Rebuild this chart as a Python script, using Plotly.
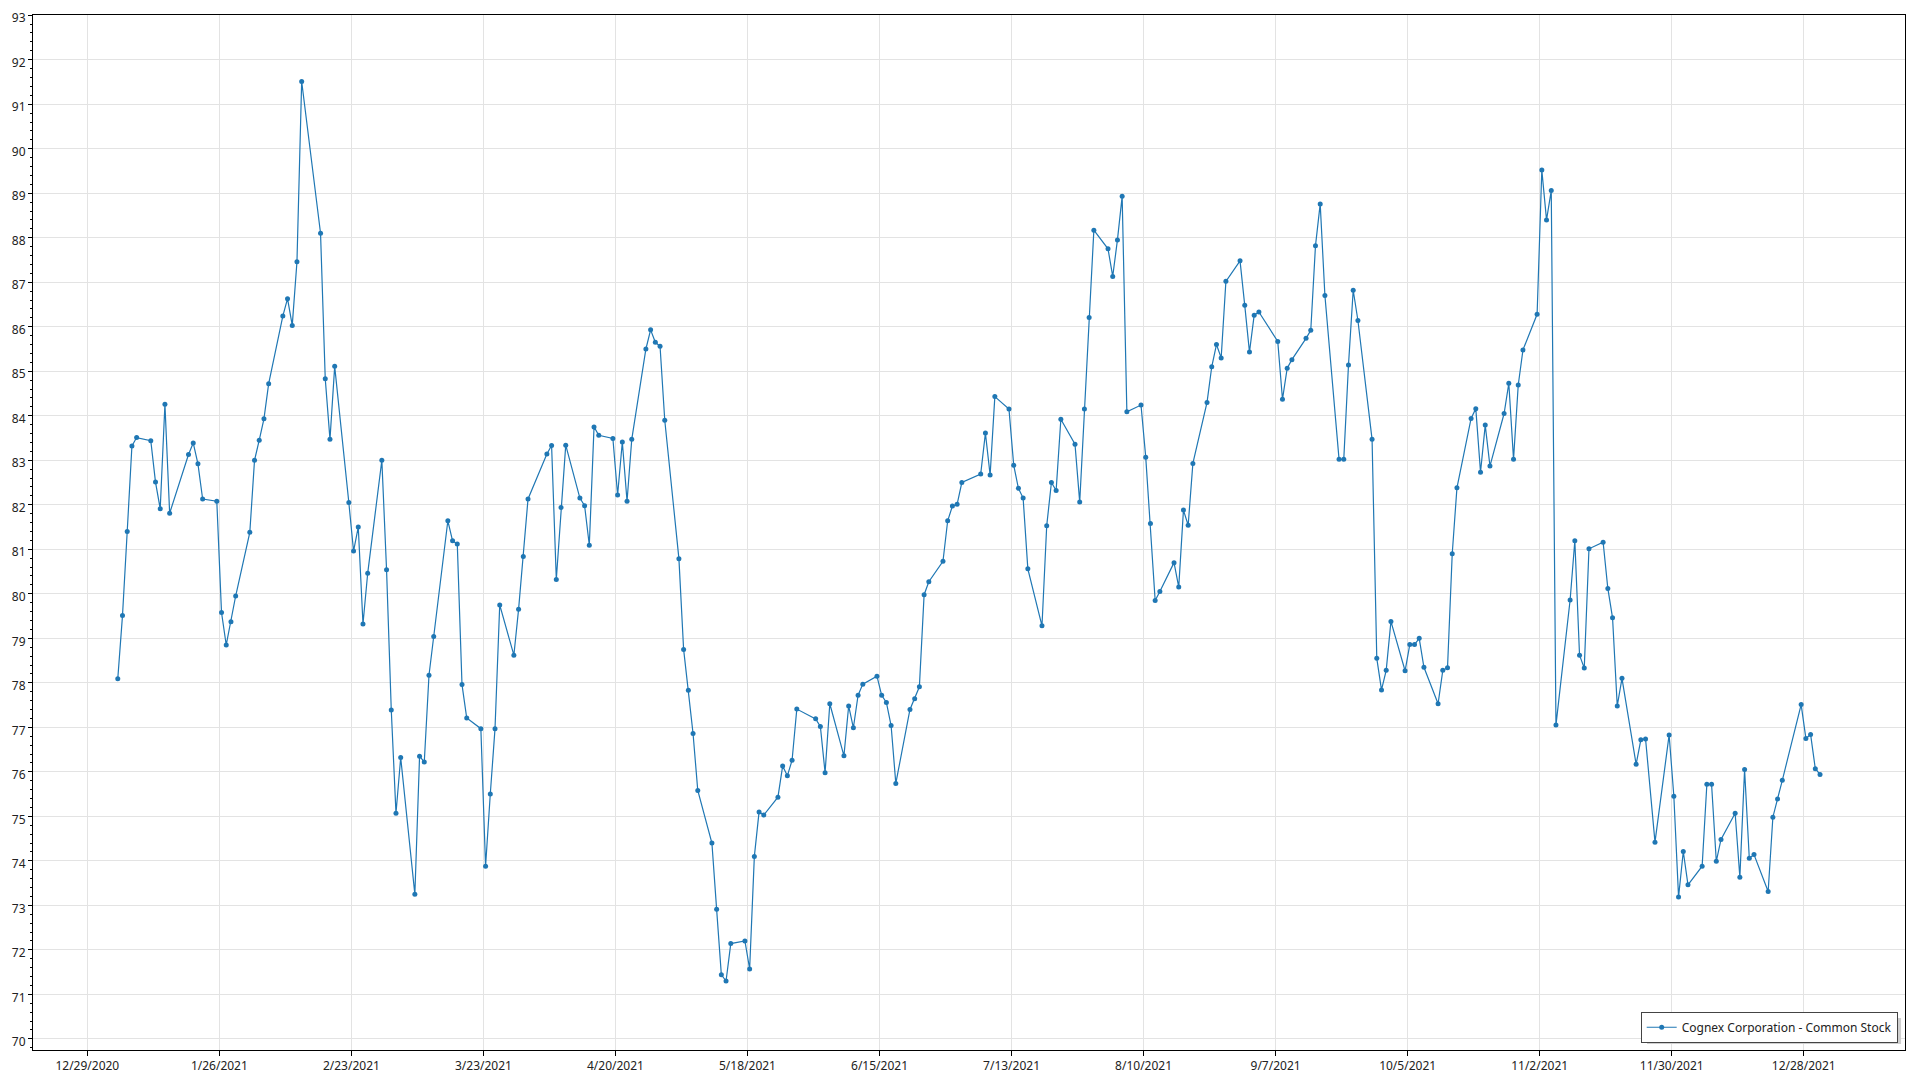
import pandas as pd
import plotly.graph_objects as go

# --- data -------------------------------------------------------------
dates = [
    "2021-01-04", "2021-01-05", "2021-01-06", "2021-01-07", "2021-01-08",
    "2021-01-11", "2021-01-12", "2021-01-13", "2021-01-14", "2021-01-15",
    "2021-01-19", "2021-01-20", "2021-01-21", "2021-01-22",
    "2021-01-25", "2021-01-26", "2021-01-27", "2021-01-28", "2021-01-29",
    "2021-02-01", "2021-02-02", "2021-02-03", "2021-02-04", "2021-02-05",
    "2021-02-08", "2021-02-09", "2021-02-10", "2021-02-11", "2021-02-12",
    "2021-02-16", "2021-02-17", "2021-02-18", "2021-02-19",
    "2021-02-22", "2021-02-23", "2021-02-24", "2021-02-25", "2021-02-26",
    "2021-03-01", "2021-03-02", "2021-03-03", "2021-03-04", "2021-03-05",
    "2021-03-08", "2021-03-09", "2021-03-10", "2021-03-11", "2021-03-12",
    "2021-03-15", "2021-03-16", "2021-03-17", "2021-03-18", "2021-03-19",
    "2021-03-22", "2021-03-23", "2021-03-24", "2021-03-25", "2021-03-26",
    "2021-03-29", "2021-03-30", "2021-03-31", "2021-04-01",
    "2021-04-05", "2021-04-06", "2021-04-07", "2021-04-08", "2021-04-09",
    "2021-04-12", "2021-04-13", "2021-04-14", "2021-04-15", "2021-04-16",
    "2021-04-19", "2021-04-20", "2021-04-21", "2021-04-22", "2021-04-23",
    "2021-04-26", "2021-04-27", "2021-04-28", "2021-04-29", "2021-04-30",
    "2021-05-03", "2021-05-04", "2021-05-05", "2021-05-06", "2021-05-07",
    "2021-05-10", "2021-05-11", "2021-05-12", "2021-05-13", "2021-05-14",
    "2021-05-17", "2021-05-18", "2021-05-19", "2021-05-20", "2021-05-21",
    "2021-05-24", "2021-05-25", "2021-05-26", "2021-05-27", "2021-05-28",
    "2021-06-01", "2021-06-02", "2021-06-03", "2021-06-04",
    "2021-06-07", "2021-06-08", "2021-06-09", "2021-06-10", "2021-06-11",
    "2021-06-14", "2021-06-15", "2021-06-16", "2021-06-17", "2021-06-18",
    "2021-06-21", "2021-06-22", "2021-06-23", "2021-06-24", "2021-06-25",
    "2021-06-28", "2021-06-29", "2021-06-30", "2021-07-01", "2021-07-02",
    "2021-07-06", "2021-07-07", "2021-07-08", "2021-07-09",
    "2021-07-12", "2021-07-13", "2021-07-14", "2021-07-15", "2021-07-16",
    "2021-07-19", "2021-07-20", "2021-07-21", "2021-07-22", "2021-07-23",
    "2021-07-26", "2021-07-27", "2021-07-28", "2021-07-29", "2021-07-30",
    "2021-08-02", "2021-08-03", "2021-08-04", "2021-08-05", "2021-08-06",
    "2021-08-09", "2021-08-10", "2021-08-11", "2021-08-12", "2021-08-13",
    "2021-08-16", "2021-08-17", "2021-08-18", "2021-08-19", "2021-08-20",
    "2021-08-23", "2021-08-24", "2021-08-25", "2021-08-26", "2021-08-27",
    "2021-08-30", "2021-08-31", "2021-09-01", "2021-09-02", "2021-09-03",
    "2021-09-07", "2021-09-08", "2021-09-09", "2021-09-10",
    "2021-09-13", "2021-09-14", "2021-09-15", "2021-09-16", "2021-09-17",
    "2021-09-20", "2021-09-21", "2021-09-22", "2021-09-23", "2021-09-24",
    "2021-09-27", "2021-09-28", "2021-09-29", "2021-09-30", "2021-10-01",
    "2021-10-04", "2021-10-05", "2021-10-06", "2021-10-07", "2021-10-08",
    "2021-10-11", "2021-10-12", "2021-10-13", "2021-10-14", "2021-10-15",
    "2021-10-18", "2021-10-19", "2021-10-20", "2021-10-21", "2021-10-22",
    "2021-10-25", "2021-10-26", "2021-10-27", "2021-10-28", "2021-10-29",
    "2021-11-01", "2021-11-02", "2021-11-03", "2021-11-04", "2021-11-05",
    "2021-11-08", "2021-11-09", "2021-11-10", "2021-11-11", "2021-11-12",
    "2021-11-15", "2021-11-16", "2021-11-17", "2021-11-18", "2021-11-19",
    "2021-11-22", "2021-11-23", "2021-11-24", "2021-11-26",
    "2021-11-29", "2021-11-30", "2021-12-01", "2021-12-02", "2021-12-03",
    "2021-12-06", "2021-12-07", "2021-12-08", "2021-12-09", "2021-12-10",
    "2021-12-13", "2021-12-14", "2021-12-15", "2021-12-16", "2021-12-17",
    "2021-12-20", "2021-12-21", "2021-12-22", "2021-12-23",
    "2021-12-27", "2021-12-28", "2021-12-29", "2021-12-30", "2021-12-31",
]

prices = [
    78.09, 79.51, 81.40, 83.32, 83.51,
    83.44, 82.51, 81.91, 84.26, 81.81,
    83.13, 83.39, 82.92, 82.13,
    82.08, 79.58, 78.85, 79.37, 79.95,
    81.38, 83.00, 83.45, 83.93, 84.72,
    86.24, 86.63, 86.03, 87.46, 91.51,
    88.10, 84.83, 83.47, 85.11,
    82.05, 80.96, 81.50, 79.32, 80.46,
    83.00, 80.54, 77.39, 75.07, 76.32,
    73.25, 76.35, 76.22, 78.17, 79.04,
    81.64, 81.19, 81.12, 77.96, 77.21,
    76.97, 73.88, 75.50, 76.97, 79.75,
    78.62, 79.65, 80.84, 82.13,
    83.14, 83.33, 80.32, 81.94, 83.34,
    82.15, 81.98, 81.09, 83.75, 83.56,
    83.49, 82.22, 83.41, 82.08, 83.47,
    85.50, 85.93, 85.65, 85.56, 83.90,
    80.79, 78.75, 77.83, 76.86, 75.58,
    74.40, 72.91, 71.44, 71.30, 72.14,
    72.20, 71.57, 74.10, 75.10, 75.03,
    75.43, 76.13, 75.91, 76.26, 77.41,
    77.19, 77.02, 75.98, 77.53,
    76.36, 77.48, 76.99, 77.72, 77.97,
    78.15, 77.72, 77.56, 77.04, 75.74,
    77.40, 77.64, 77.91, 79.98, 80.27,
    80.73, 81.64, 81.97, 82.01, 82.50,
    82.69, 83.61, 82.67, 84.43,
    84.15, 82.89, 82.37, 82.15, 80.56,
    79.28, 81.53, 82.50, 82.32, 83.92,
    83.36, 82.06, 84.15, 86.21, 88.17,
    87.75, 87.13, 87.95, 88.93, 84.09,
    84.24, 83.07, 81.58, 79.85, 80.05,
    80.70, 80.15, 81.88, 81.54, 82.93,
    84.30, 85.10, 85.60, 85.30, 87.02,
    87.48, 86.48, 85.43, 86.26, 86.33,
    85.67, 84.37, 85.07, 85.26,
    85.74, 85.92, 87.82, 88.76, 86.70,
    83.02, 83.02, 85.14, 86.82, 86.14,
    83.47, 78.55, 77.84, 78.28, 79.38,
    78.27, 78.86, 78.86, 79.00, 78.35,
    77.53, 78.28, 78.34, 80.90, 82.38,
    83.94, 84.16, 82.73, 83.79, 82.87,
    84.05, 84.73, 83.02, 84.69, 85.48,
    86.28, 89.52, 88.40, 89.06, 77.05,
    79.86, 81.19, 78.62, 78.33, 81.01,
    81.16, 80.12, 79.46, 77.48, 78.10,
    76.17, 76.72, 76.74, 74.42,
    76.83, 75.45, 73.19, 74.21, 73.46,
    73.88, 75.72, 75.72, 73.99, 74.48,
    75.07, 73.63, 76.05, 74.06, 74.14,
    73.31, 74.98, 75.39, 75.81,
    77.51, 76.75, 76.84, 76.07, 75.94,
]

tick_dates = [
    "2020-12-29", "2021-01-26", "2021-02-23", "2021-03-23", "2021-04-20",
    "2021-05-18", "2021-06-15", "2021-07-13", "2021-08-10", "2021-09-07",
    "2021-10-05", "2021-11-02", "2021-11-30", "2021-12-28",
]
tick_labels = [
    "12/29/2020", "1/26/2021", "2/23/2021", "3/23/2021", "4/20/2021",
    "5/18/2021", "6/15/2021", "7/13/2021", "8/10/2021", "9/7/2021",
    "10/5/2021", "11/2/2021", "11/30/2021", "12/28/2021",
]

series_name = "Cognex Corporation - Common Stock"

# --- figure -----------------------------------------------------------
x_vals = pd.to_datetime(dates) + pd.Timedelta(hours=11)

fig = go.Figure()
fig.add_trace(go.Scatter(
    x=x_vals, y=prices, mode="lines+markers", name=series_name,
    line=dict(color="#1f77b4", width=1.2),
    marker=dict(color="#1f77b4", size=5),
    showlegend=True,
))

axis_font = dict(family="Noto Sans, Open Sans, sans-serif", size=12, color="#222222")

# soft drop shadow behind the legend box
fig.add_shape(
    type="rect", xref="paper", yref="paper",
    x0=0.8622, x1=0.9979, y0=0.0058, y1=0.0310,
    fillcolor="#cfcfcf", line=dict(width=0), layer="above",
)

# the page body adds an 8px offset, so margins compensate for it
fig.update_layout(
    width=1920, height=1080,
    margin=dict(l=25, r=23, t=7, b=38, autoexpand=False),
    paper_bgcolor="white", plot_bgcolor="white",
    font=axis_font,
    showlegend=True,
    legend=dict(
        x=0.9961, y=0.007, xanchor="right", yanchor="bottom",
        bgcolor="white", bordercolor="#444444", borderwidth=1,
        font=dict(family="Noto Sans, Open Sans, sans-serif", size=12, color="#222222"),
    ),
    xaxis=dict(
        type="date",
        range=["2020-12-17 11:30", "2022-01-18 11:30"],
        tickmode="array", tickvals=tick_dates, ticktext=tick_labels,
        showgrid=True, gridcolor="#e3e3e3", gridwidth=1,
        showline=True, linecolor="black", linewidth=1, mirror=True,
        ticks="outside", ticklen=5, tickcolor="black",
        zeroline=False, automargin=False, ticklabeloverflow="allow",
    ),
    yaxis=dict(
        range=[69.75, 93.004],
        tickmode="linear", tick0=70, dtick=1,
        showgrid=True, gridcolor="#e3e3e3", gridwidth=1,
        showline=True, linecolor="black", linewidth=1, mirror=True,
        ticks="outside", ticklen=4, tickcolor="black",
        zeroline=False, automargin=False, ticklabeloverflow="allow",
        ticklabelshift=3,
        minor=dict(dtick=0.2, ticks="outside", ticklen=2, tickcolor="black", showgrid=False),
    ),
)

fig.write_html("out.html")
